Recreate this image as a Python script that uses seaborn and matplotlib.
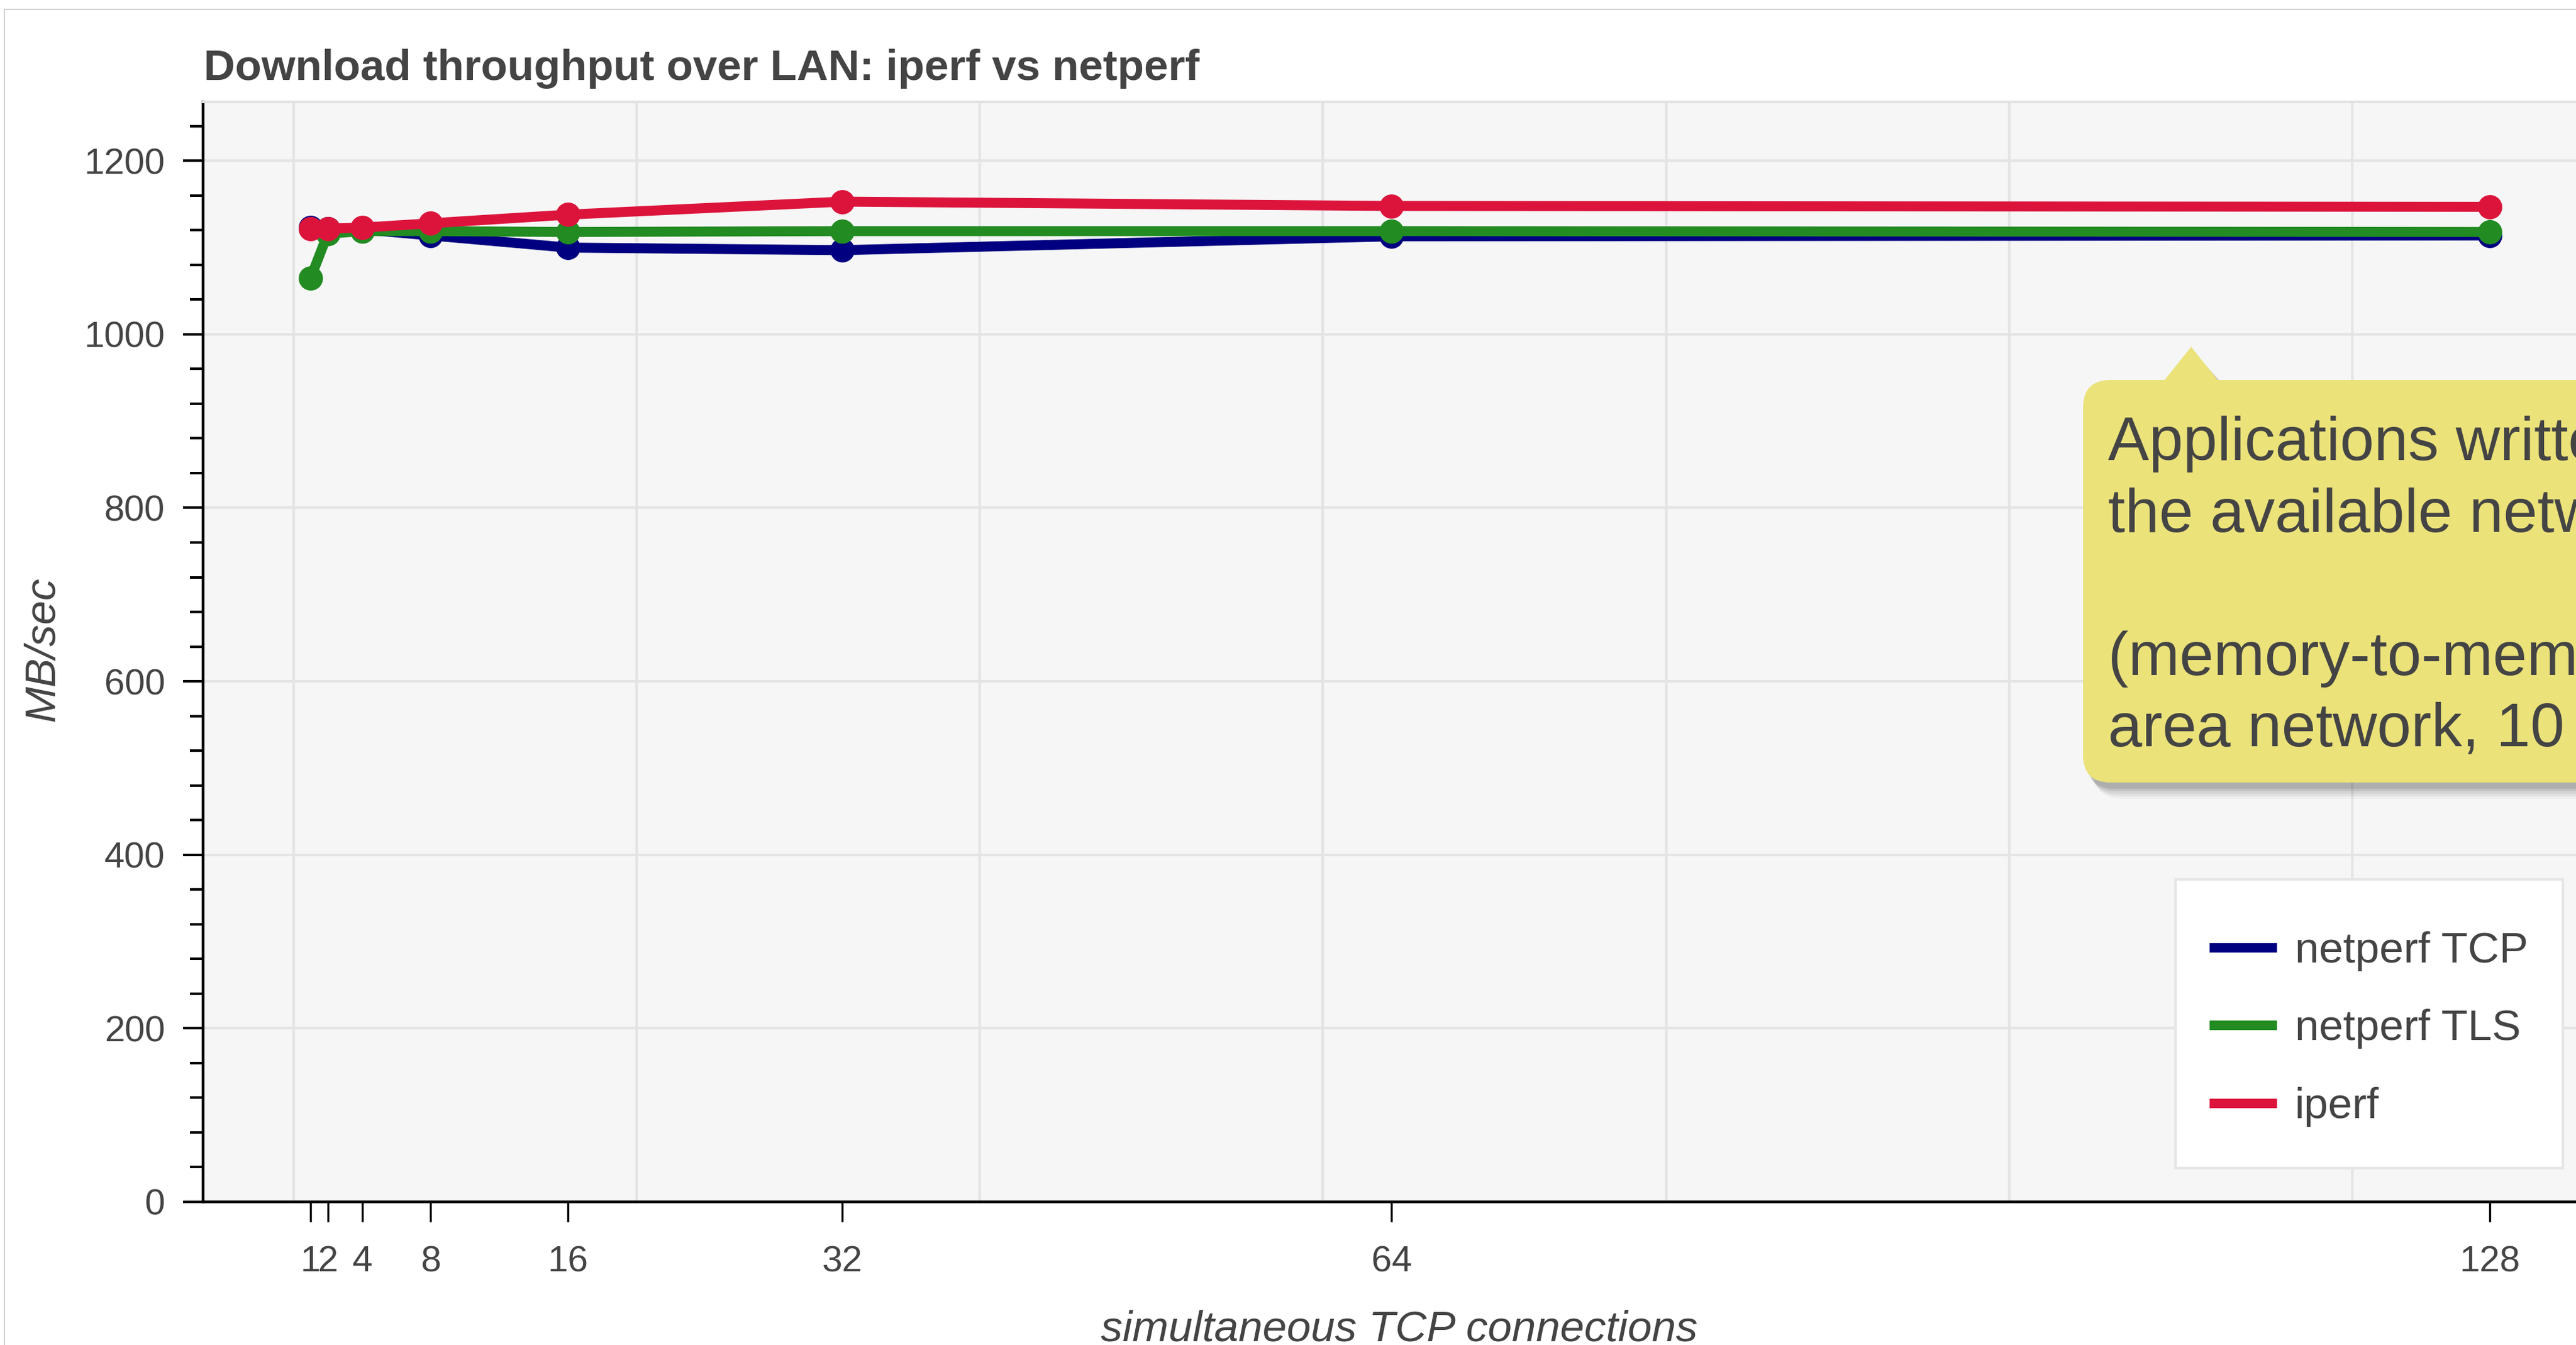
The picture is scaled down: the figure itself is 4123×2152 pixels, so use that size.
import numpy as np
import pandas as pd
import matplotlib
matplotlib.use("Agg")
import matplotlib.pyplot as plt
import seaborn as sns
from matplotlib.lines import Line2D
from matplotlib.patches import FancyBboxPatch, Polygon, Rectangle
from matplotlib.transforms import IdentityTransform
from matplotlib.ticker import FixedLocator, MultipleLocator

# ---------------- data ----------------
connections = [1, 2, 4, 8, 16, 32, 64, 128]
netperf_tcp = [1123, 1122, 1121, 1114, 1100, 1097, 1113, 1114]
netperf_tls = [1065, 1116, 1119, 1119, 1118, 1119, 1119, 1118]
iperf = [1122, 1122, 1123, 1128, 1138, 1153, 1148, 1147]

series_names = ["netperf TCP", "netperf TLS", "iperf"]
series_colors = ["#000080", "#228B22", "#DC143C"]
x_ticks = [1, 2, 4, 8, 16, 32, 64, 128]

title = "Download throughput over LAN: iperf vs netperf"
x_label = "simultaneous TCP connections"
y_label = "MB/sec"
note_lines = [
    "Applications written in Go can saturate",
    "the available network bandwidth",
    "",
    "(memory-to-memory transfers on a local",
    "area network, 10 Gbit/s)",
]

df = pd.DataFrame({
    "connections": connections * 3,
    "MB/sec": netperf_tcp + netperf_tls + iperf,
    "series": [series_names[0]] * len(connections)
    + [series_names[1]] * len(connections)
    + [series_names[2]] * len(connections),
})

# ---------------- style ----------------
sns.set_theme(style="ticks")
plt.rcParams["font.family"] = ["Liberation Sans", "DejaVu Sans"]
TXT = "#444444"

W, H, DPI = 4123, 2152, 100
fig = plt.figure(figsize=(W / DPI, H / DPI), dpi=DPI)
fig.patch.set_facecolor("white")

# axes geometry in pixels
ax_l, ax_r, ax_t, ax_b = 325, 4155, 163, 1922.7
ax = fig.add_axes([ax_l / W, 1 - ax_b / H, (ax_r - ax_l) / W, (ax_b - ax_t) / H])
ax.set_facecolor("#f6f6f6")

sns.lineplot(
    data=df, x="connections", y="MB/sec", hue="series",
    hue_order=series_names, palette=series_colors,
    marker="o", markersize=28, markeredgewidth=0, linewidth=11.5,
    estimator=None, errorbar=None, legend=False, ax=ax, zorder=3,
)

ax.set_xlim(-5.27, 134.2)
ax.set_ylim(0, 1268)

ax.set_xticks(x_ticks)
ax.set_xticklabels([str(v) for v in x_ticks])
ax.xaxis.set_minor_locator(FixedLocator(list(range(0, 141, 20))))
ax.yaxis.set_major_locator(FixedLocator(list(range(0, 1201, 200))))
ax.yaxis.set_minor_locator(MultipleLocator(40))

ax.grid(False)
ax.xaxis.grid(True, which="minor", color="#e4e4e4", linewidth=3)
ax.yaxis.grid(True, which="major", color="#e4e4e4", linewidth=3)
ax.set_axisbelow(True)

ax.tick_params(axis="x", which="major", direction="out", length=23, width=2.4,
               color="black", labelsize=42, labelcolor=TXT, pad=27)
ax.tick_params(axis="x", which="minor", length=0)
ax.tick_params(axis="y", which="major", direction="out", length=23, width=2.9,
               color="black", labelsize=42, labelcolor=TXT, pad=21)
ax.tick_params(axis="y", which="minor", direction="out", length=15, width=2.9,
               color="black")

for s in ("left", "bottom"):
    ax.spines[s].set_color("black")
    ax.spines[s].set_linewidth(3.2)
ax.spines["top"].set_color("#e2e2e2")
ax.spines["top"].set_linewidth(3)
ax.spines["right"].set_visible(False)
ax.set_xlabel("")
ax.set_ylabel("")

# legend frame (drawn as its own box) + legend entries
ax.add_patch(Rectangle((3482, H - 1869), 620, 462, transform=IdentityTransform(),
                       facecolor="white", edgecolor="#e6e6e6", linewidth=3,
                       clip_on=False, zorder=9))
handles = [Line2D([], [], color=c, linewidth=11, solid_capstyle="butt")
           for c in series_colors]
leg = ax.legend(handles, series_names, loc="upper left",
                bbox_to_anchor=(3536, H - 1490), bbox_transform=IdentityTransform(),
                fontsize=50, frameon=False, borderpad=0,
                labelspacing=0.87, handlelength=1.55,
                handletextpad=0.42, borderaxespad=0)
for t in leg.get_texts():
    t.set_color(TXT)
leg.set_zorder(10)

# titles / labels
fig.text(326 / W, 1 - 128 / H, title, fontsize=50, fontweight="bold",
         color=TXT, ha="left", va="baseline")
fig.text(68 / W, 1 - 1038 / H, y_label, fontsize=50, style="italic",
         color=TXT, rotation=90, ha="center", va="center")
fig.text(2240 / W, 1 - 2145 / H, x_label, fontsize=50, style="italic",
         color=TXT, ha="center", va="baseline")

# outer frame
fig.add_artist(Rectangle((7, -20), 6000, H - 15 + 20, transform=IdentityTransform(),
                         facecolor="none", edgecolor="#cfcfcf", linewidth=1.5,
                         zorder=0.5))

# callout note (tooltip style)
bx0, by_top, by_bot = 3334, 608, 1252
bw = 1200
bh = by_bot - by_top
yellow = "#ebe27a"
for dx, dy, a in [(6, 10, 0.10), (9, 14, 0.08), (12, 18, 0.06), (15, 22, 0.05), (18, 26, 0.03)]:
    fig.add_artist(FancyBboxPatch((bx0 + dx, H - by_bot - dy), bw, bh,
                                  boxstyle="round,pad=0,rounding_size=44",
                                  transform=IdentityTransform(), facecolor="black",
                                  edgecolor="none", alpha=a, zorder=5))
    fig.add_artist(Polygon([(3463 + dx, H - 608 - dy + 4), (3507 + dx, H - 555 - dy),
                            (3551 + dx, H - 608 - dy + 4)], closed=True,
                           transform=IdentityTransform(), facecolor="black",
                           edgecolor="none", alpha=a, zorder=5))
fig.add_artist(FancyBboxPatch((bx0, H - by_bot), bw, bh,
                              boxstyle="round,pad=0,rounding_size=44",
                              transform=IdentityTransform(), facecolor=yellow,
                              edgecolor="none", zorder=6))
fig.add_artist(Polygon([(3463, H - 610), (3507, H - 555), (3551, H - 610)], closed=True,
                       transform=IdentityTransform(), facecolor=yellow,
                       edgecolor="none", zorder=6))
baselines = [736, 851, 966, 1080, 1194]
for line, yb in zip(note_lines, baselines):
    if line:
        fig.text(3374 / W, 1 - yb / H, line, fontsize=70.7, color=TXT,
                 ha="left", va="baseline", zorder=7)

fig.savefig("out.png", dpi=DPI, facecolor="white")
